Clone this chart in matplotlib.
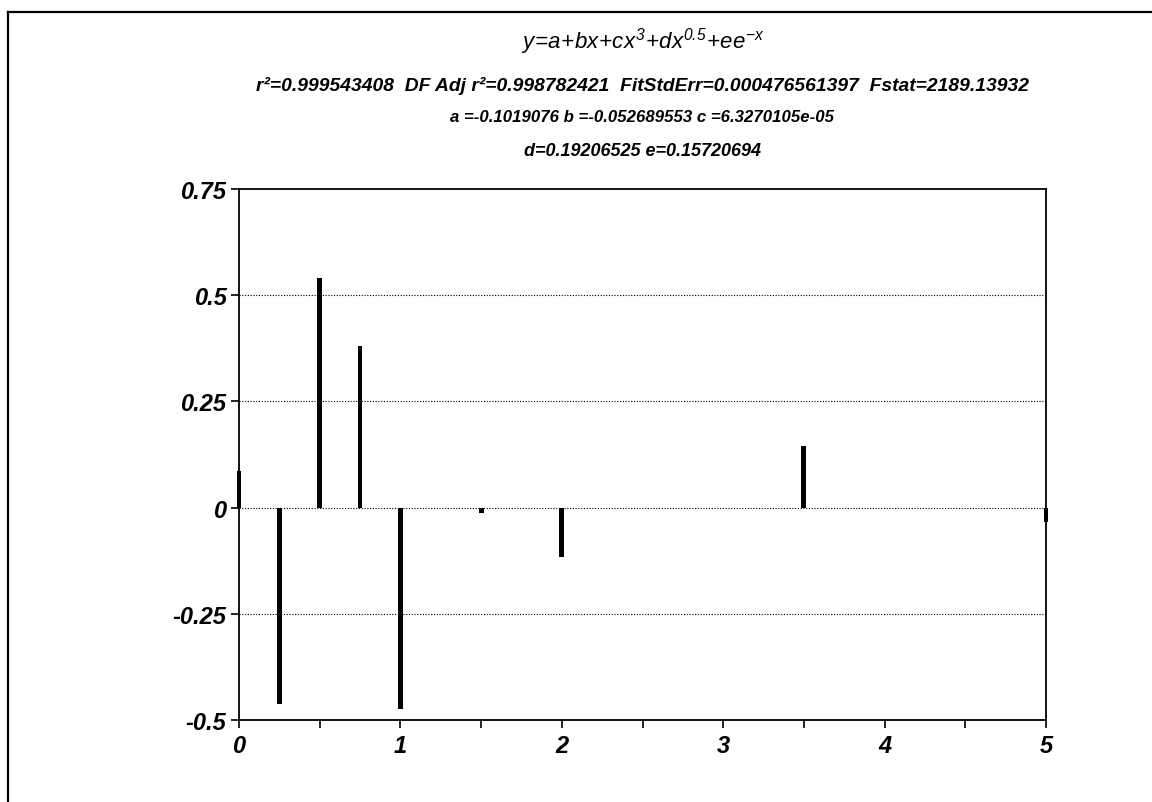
import matplotlib
matplotlib.use("Agg")
import matplotlib.pyplot as plt
from matplotlib.lines import Line2D
from matplotlib.ticker import MultipleLocator

# residuals
x_vals = [0.0, 0.25, 0.5, 0.75, 1.0, 1.5, 2.0, 3.5, 5.0]
residuals = [0.085, -0.462, 0.540, 0.380, -0.474, -0.012, -0.116, 0.146, -0.035]

y_ticks = [-0.5, -0.25, 0, 0.25, 0.5, 0.75]
y_labels = ["-0.5", "-0.25", "0", "0.25", "0.5", "0.75"]
x_ticks = [0, 1, 2, 3, 4, 5]

eq_line = r"$y\!=\!a\!+\!bx\!+\!cx^{3}\!+\!dx^{0.5}\!+\!ee^{-x}$"
stat_lines = [
    "r\u00b2=0.999543408  DF Adj r\u00b2=0.998782421  FitStdErr=0.000476561397  Fstat=2189.13932",
    "a =-0.1019076 b =-0.052689553 c =6.3270105e-05",
    "d=0.19206525 e=0.15720694",
]
stat_sizes = [13.9, 12.1, 13]

plt.rcParams["font.family"] = ["Liberation Sans", "DejaVu Sans"]
plt.rcParams["mathtext.fontset"] = "custom"
plt.rcParams["mathtext.it"] = "Liberation Sans:italic"
plt.rcParams["mathtext.rm"] = "Liberation Sans:italic"

W, H = 1152, 803
fig = plt.figure(figsize=(W / 100, H / 100), dpi=100)
ax = fig.add_axes([239 / W, 1 - 721 / H, (1046 - 239) / W, (721 - 190) / H])

ax.bar(x_vals, residuals, width=0.03, color="black", clip_on=False, zorder=3)

ax.set_xlim(0, 5)
ax.set_ylim(-0.5, 0.75)
ax.set_yticks(y_ticks)
ax.set_yticklabels(y_labels)
ax.set_xticks(x_ticks)
ax.xaxis.set_minor_locator(MultipleLocator(0.5))

for lab in ax.get_xticklabels() + ax.get_yticklabels():
    lab.set_fontsize(17)
    lab.set_style("italic")
    lab.set_weight("bold")

ax.tick_params(axis="both", which="both", direction="out", length=6, width=1.2, color="black")
ax.tick_params(axis="x", pad=4)
ax.tick_params(axis="y", pad=3)
for sp in ax.spines.values():
    sp.set_linewidth(1.3)

for yv in [-0.25, 0, 0.25, 0.5]:
    ax.axhline(yv, color="black", linestyle=(0, (1, 1.5)), linewidth=0.8, zorder=1)

# header text
cx = (239 + 1046) / 2 / W
fig.text(cx, 1 - 42 / H, eq_line, ha="center", va="center", fontsize=16)
for yy, txt, fs in zip([86, 118, 151], stat_lines, stat_sizes):
    fig.text(cx, 1 - yy / H, txt, ha="center", va="center", fontsize=fs,
             style="italic", weight="bold")

# outer frame (top and left only, the rest is cut off)
fig.add_artist(Line2D([8 / W, 1.0], [1 - 13 / H, 1 - 13 / H], color="black", linewidth=1.6))
fig.add_artist(Line2D([8 / W, 8 / W], [0.0, 1 - 13 / H], color="black", linewidth=1.6))

fig.savefig("out.png", dpi=100)
